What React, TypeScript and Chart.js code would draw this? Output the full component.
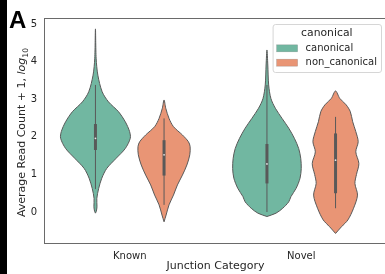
import React, { useEffect, useRef } from "react";
import { Chart, registerables } from "chart.js";

Chart.register(...registerables);

// ---------------- data ----------------
const categories = ["Known", "Novel"];
const hueLabels = ["canonical", "non_canonical"];
const hueColors = ["#71b7a1", "#e99575"];
const hueOffsets = [-0.2, 0.2];
const yTicks = [0, 1, 2, 3, 4, 5];

// violin outlines: y value and density half-width (in category units)
const knownCanonicalY = [-0.03, 0.02, 0.14, 0.36, 0.63, 0.9, 1.16, 1.43, 1.69, 1.96, 2.14, 2.4, 2.67, 2.93, 3.2, 3.64, 4.09, 4.87];
const knownCanonicalW = [0, 0.005, 0.009, 0.008, 0.019, 0.037, 0.066, 0.121, 0.174, 0.203, 0.199, 0.174, 0.134, 0.076, 0.039, 0.014, 0.004, 0];

const knownNonCanonicalY = [-0.26, -0.08, 0.19, 0.45, 0.72, 0.98, 1.25, 1.52, 1.74, 1.87, 2.05, 2.27, 2.49, 2.76, 2.98];
const knownNonCanonicalW = [0, 0.012, 0.029, 0.055, 0.078, 0.107, 0.133, 0.15, 0.152, 0.142, 0.107, 0.055, 0.029, 0.01, 0];

const novelCanonicalY = [-0.12, -0.03, 0.1, 0.27, 0.41, 0.63, 0.9, 1.16, 1.43, 1.69, 1.96, 2.23, 2.49, 2.76, 3.02, 3.38, 3.91, 4.31];
const novelCanonicalW = [0, 0.053, 0.092, 0.127, 0.14, 0.17, 0.193, 0.2, 0.197, 0.185, 0.16, 0.127, 0.088, 0.049, 0.023, 0.01, 0.005, 0];

const novelNonCanonicalY = [-0.57, -0.39, -0.21, 0.1, 0.45, 0.76, 1.0, 1.29, 1.6, 1.87, 2.14, 2.4, 2.67, 2.85, 3.02, 3.22];
const novelNonCanonicalW = [0, 0.035, 0.072, 0.105, 0.128, 0.113, 0.122, 0.136, 0.118, 0.132, 0.118, 0.1, 0.086, 0.062, 0.025, 0];

// inner box stats, order: Known/canonical, Known/non_canonical, Novel/canonical, Novel/non_canonical
const violinCategory = [0, 0, 1, 1];
const violinHue = [0, 1, 0, 1];
const boxQ1 = [1.65, 0.97, 0.76, 0.5];
const boxQ3 = [2.34, 1.91, 1.81, 2.09];
const boxMedian = [1.96, 1.52, 1.28, 1.38];
const whiskerLow = [0.61, 0.19, 0.0, 0.1];
const whiskerHigh = [3.38, 2.49, 3.38, 2.53];

const outlineY = [knownCanonicalY, knownNonCanonicalY, novelCanonicalY, novelNonCanonicalY];
const outlineW = [knownCanonicalW, knownNonCanonicalW, novelCanonicalW, novelNonCanonicalW];

const EDGE = "#595959";
const TEXT = "#262626";
const FONT = '"DejaVu Sans", sans-serif';

function violinPoints(center: number, ys: number[], ws: number[]) {
  const pts: { x: number; y: number }[] = [];
  for (let i = 0; i < ys.length; i++) pts.push({ x: center - ws[i], y: ys[i] });
  for (let i = ys.length - 2; i >= 0; i--) pts.push({ x: center + ws[i], y: ys[i] });
  return pts;
}

const framePlugin = {
  id: "frame",
  beforeDatasetsDraw(chart: any) {
    const { ctx, chartArea: a } = chart;
    ctx.save();
    ctx.strokeStyle = "#6a6a6a";
    ctx.lineWidth = 1;
    ctx.strokeRect(a.left + 0.5, a.top + 0.5, a.right - a.left, a.bottom - a.top);
    ctx.restore();
  },
};

const decorPlugin = {
  id: "decor",
  afterDraw(chart: any) {
    const { ctx, chartArea: a } = chart;

    // panel letter
    ctx.save();
    ctx.fillStyle = "#000";
    ctx.font = 'bold 24px "Liberation Sans", Arial, sans-serif';
    ctx.textAlign = "left";
    ctx.textBaseline = "alphabetic";
    ctx.fillText("A", 9, 28);
    ctx.restore();

    // y axis title with italic log and subscript 10
    ctx.save();
    const main = "Average Read Count + 1, ";
    const fMain = `11px ${FONT}`;
    const fIt = `italic 11px ${FONT}`;
    const fSub = `7.7px ${FONT}`;
    ctx.font = fMain;
    const wm = ctx.measureText(main).width;
    ctx.font = fIt;
    const wi = ctx.measureText("log").width;
    ctx.font = fSub;
    const ws = ctx.measureText("10").width;
    const total = wm + wi + ws;
    const cy = (a.top + a.bottom) / 2 + 2;
    ctx.translate(25, cy);
    ctx.rotate(-Math.PI / 2);
    ctx.fillStyle = TEXT;
    ctx.textAlign = "left";
    ctx.textBaseline = "alphabetic";
    let u = -total / 2;
    ctx.font = fMain;
    ctx.fillText(main, u, 0);
    u += wm;
    ctx.font = fIt;
    ctx.fillText("log", u, 0);
    u += wi;
    ctx.font = fSub;
    ctx.fillText("10", u, 2.5);
    ctx.restore();

    // legend
    ctx.save();
    ctx.font = `10px ${FONT}`;
    const textW = Math.max(...hueLabels.map((t) => ctx.measureText(t).width));
    const right = a.right - 6;
    const top = a.top + 6;
    const w = 4 + 21 + 8 + textW + 4;
    const h = 48;
    const left = right - w;
    ctx.beginPath();
    (ctx as any).roundRect(left + 0.5, top + 0.5, w, h, 2.5);
    ctx.fillStyle = "rgba(255,255,255,0.8)";
    ctx.fill();
    ctx.strokeStyle = "#d6d6d6";
    ctx.lineWidth = 1;
    ctx.stroke();
    ctx.fillStyle = TEXT;
    ctx.font = `10.8px ${FONT}`;
    ctx.textAlign = "center";
    ctx.textBaseline = "middle";
    ctx.fillText("canonical", left + w / 2, top + 9.5);
    hueLabels.forEach((t, i) => {
      const yc = top + 24.3 + i * 14.4;
      ctx.fillStyle = hueColors[i];
      ctx.fillRect(left + 4, yc - 3.5, 21, 7);
      ctx.strokeStyle = "rgba(89,89,89,0.35)";
      ctx.lineWidth = 0.6;
      ctx.strokeRect(left + 4, yc - 3.5, 21, 7);
      ctx.fillStyle = TEXT;
      ctx.font = `10px ${FONT}`;
      ctx.textAlign = "left";
      ctx.fillText(t, left + 33, yc);
    });
    ctx.restore();
  },
};

export default function App() {
  const ref = useRef<HTMLCanvasElement | null>(null);

  useEffect(() => {
    if (!ref.current) return;
    const datasets: any[] = [];
    for (let k = 0; k < 4; k++) {
      const c = violinCategory[k] + hueOffsets[violinHue[k]];
      datasets.push({
        data: violinPoints(c, outlineY[k], outlineW[k]),
        borderColor: EDGE,
        borderWidth: 1,
        backgroundColor: hueColors[violinHue[k]],
        fill: "shape",
        pointRadius: 0,
        tension: 0.3,
        order: 5,
      });
      datasets.push({
        data: [
          { x: c, y: whiskerLow[k] },
          { x: c, y: whiskerHigh[k] },
        ],
        borderColor: EDGE,
        borderWidth: 1,
        pointRadius: 0,
        fill: false,
        order: 3,
      });
      datasets.push({
        data: [
          { x: c, y: boxQ1[k] },
          { x: c, y: boxQ3[k] },
        ],
        borderColor: EDGE,
        borderWidth: 3,
        borderCapStyle: "butt",
        pointRadius: 0,
        fill: false,
        order: 2,
      });
      datasets.push({
        data: [{ x: c, y: boxMedian[k] }],
        showLine: false,
        pointRadius: 0.9,
        pointBorderWidth: 0,
        pointBackgroundColor: "rgba(255,255,255,0.85)",
        order: 1,
      });
    }

    const chart = new Chart(ref.current, {
      type: "line",
      data: { datasets },
      options: {
        animation: false,
        responsive: false,
        devicePixelRatio: 1,
        events: [],
        layout: { padding: { left: 0, top: 18, right: 5, bottom: 0 } },
        plugins: { legend: { display: false }, tooltip: { enabled: false } },
        scales: {
          x: {
            type: "linear",
            min: -0.5,
            max: 1.5,
            grid: { display: false, drawTicks: false },
            border: { display: false },
            afterBuildTicks: (s: any) => {
              s.ticks = categories.map((_, i) => ({ value: i }));
            },
            afterFit: (s: any) => {
              s.height = 31;
            },
            ticks: {
              padding: 7,
              color: TEXT,
              font: { family: FONT, size: 10 },
              autoSkip: false,
              maxRotation: 0,
              callback: (v: any) => categories[v] ?? "",
            },
            title: {
              display: true,
              text: "Junction Category",
              color: TEXT,
              font: { family: FONT, size: 11 },
              padding: { top: 0, bottom: 1 },
            },
          },
          y: {
            type: "linear",
            min: -0.824,
            max: 5.16,
            grid: { display: false, drawTicks: false },
            border: { display: false },
            afterBuildTicks: (s: any) => {
              s.ticks = yTicks.map((v) => ({ value: v }));
            },
            afterFit: (s: any) => {
              s.width = 44;
            },
            ticks: {
              padding: 7,
              color: TEXT,
              font: { family: FONT, size: 10 },
              callback: (v: any) => String(v),
            },
          },
        },
      },
      plugins: [framePlugin, decorPlugin],
    } as any);
    return () => chart.destroy();
  }, []);

  return (
    <div
      style={{
        position: "fixed",
        left: 0,
        top: 0,
        width: 385,
        height: 274,
        overflow: "hidden",
        background: "#fff",
      }}
    >
      <canvas
        ref={ref}
        width={392}
        height={274}
        style={{ position: "absolute", left: 0, top: 0, width: 392, height: 274 }}
      />
      <div
        style={{ position: "absolute", left: 0, top: 0, width: 7, height: 274, background: "#000" }}
      />
    </div>
  );
}
